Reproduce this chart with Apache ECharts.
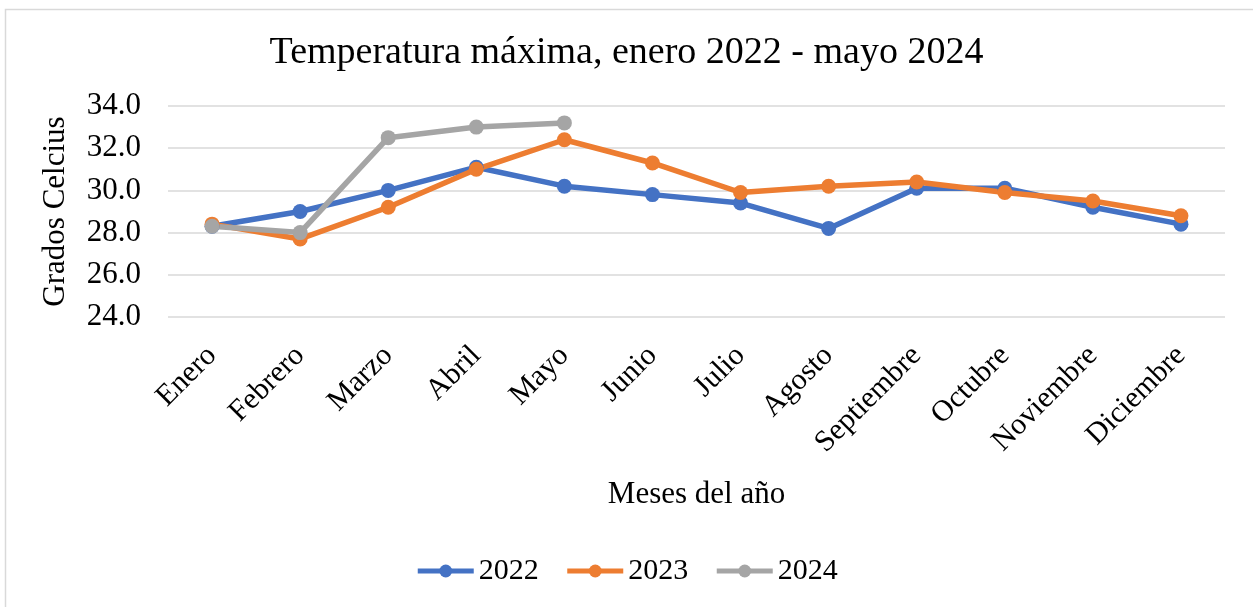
<html lang="es">
  <head>
    <meta charset="utf-8">
    <title>Temperatura máxima</title>
    <script type="text/javascript" src="https://cdn.jsdelivr.net/npm/echarts@6/dist/echarts.min.js"></script>
    <style>
      body { margin: 0; background: #fff; }
      #chartDiv { width: 1253px; height: 607px; }
    </style>
  </head>
  <body>
    <div id="chartDiv"></div>
    <script>
      // datos
      var meses = ['Enero', 'Febrero', 'Marzo', 'Abril', 'Mayo', 'Junio', 'Julio',
                   'Agosto', 'Septiembre', 'Octubre', 'Noviembre', 'Diciembre'];
      var temp2022 = [28.3, 29.0, 30.0, 31.1, 30.2, 29.8, 29.4, 28.2, 30.1, 30.1, 29.2, 28.4];
      var temp2023 = [28.4, 27.7, 29.2, 31.0, 32.4, 31.3, 29.9, 30.2, 30.4, 29.9, 29.5, 28.8];
      var temp2024 = [28.3, 28.0, 32.5, 33.0, 33.2];

      var fuente = '"Liberation Serif", "Times New Roman", serif';

      function serie(nombre, datos, color){
        return {
          name: nombre,
          type: 'line',
          data: datos,
          symbol: 'circle',
          symbolSize: 15,
          lineStyle: { width: 5.5, color: color },
          itemStyle: { color: color },
          emphasis: { disabled: true }
        };
      }

      var chart = echarts.init(document.getElementById('chartDiv'));
      chart.setOption({
        animation: false,
        textStyle: { fontFamily: fuente, color: '#000' },
        graphic: [{
          type: 'rect',
          left: 3, top: 7,
          shape: { width: 1300, height: 700 },
          style: { fill: 'none', stroke: '#d9d9d9', lineWidth: 1.5 },
          silent: true
        }],
        title: {
          text: 'Temperatura máxima, enero 2022 - mayo 2024',
          left: 'center',
          top: 29,
          textStyle: { fontFamily: fuente, fontSize: 38, fontWeight: 'normal', color: '#000' }
        },
        legend: {
          bottom: 16,
          left: 'center',
          itemWidth: 56,
          itemHeight: 16,
          itemGap: 26,
          lineStyle: { width: 5 },
          textStyle: { fontFamily: fuente, fontSize: 30, color: '#000' },
          data: ['2022', '2023', '2024']
        },
        grid: { left: 168, right: 28, top: 106, bottom: 290 },
        xAxis: {
          type: 'category',
          data: meses,
          name: 'Meses del año',
          nameLocation: 'middle',
          nameGap: 162,
          nameTextStyle: { fontFamily: fuente, fontSize: 31, color: '#000' },
          axisTick: { show: false },
          axisLine: { show: false },
          axisLabel: { rotate: 45, margin: 34, fontFamily: fuente, fontSize: 30, color: '#000' }
        },
        yAxis: {
          type: 'value',
          min: 24,
          max: 34,
          interval: 2,
          name: 'Grados Celcius',
          nameLocation: 'middle',
          nameGap: 97,
          nameTextStyle: { fontFamily: fuente, fontSize: 31, color: '#000' },
          axisLabel: {
            margin: 27,
            fontFamily: fuente, fontSize: 31, color: '#000',
            formatter: function(v){ return v.toFixed(1); }
          },
          splitLine: { lineStyle: { color: '#d9d9d9', width: 1.5 } }
        },
        series: [
          serie('2022', temp2022, '#4472c4'),
          serie('2023', temp2023, '#ed7d31'),
          serie('2024', temp2024, '#a5a5a5')
        ]
      });
    </script>
  </body>
</html>
